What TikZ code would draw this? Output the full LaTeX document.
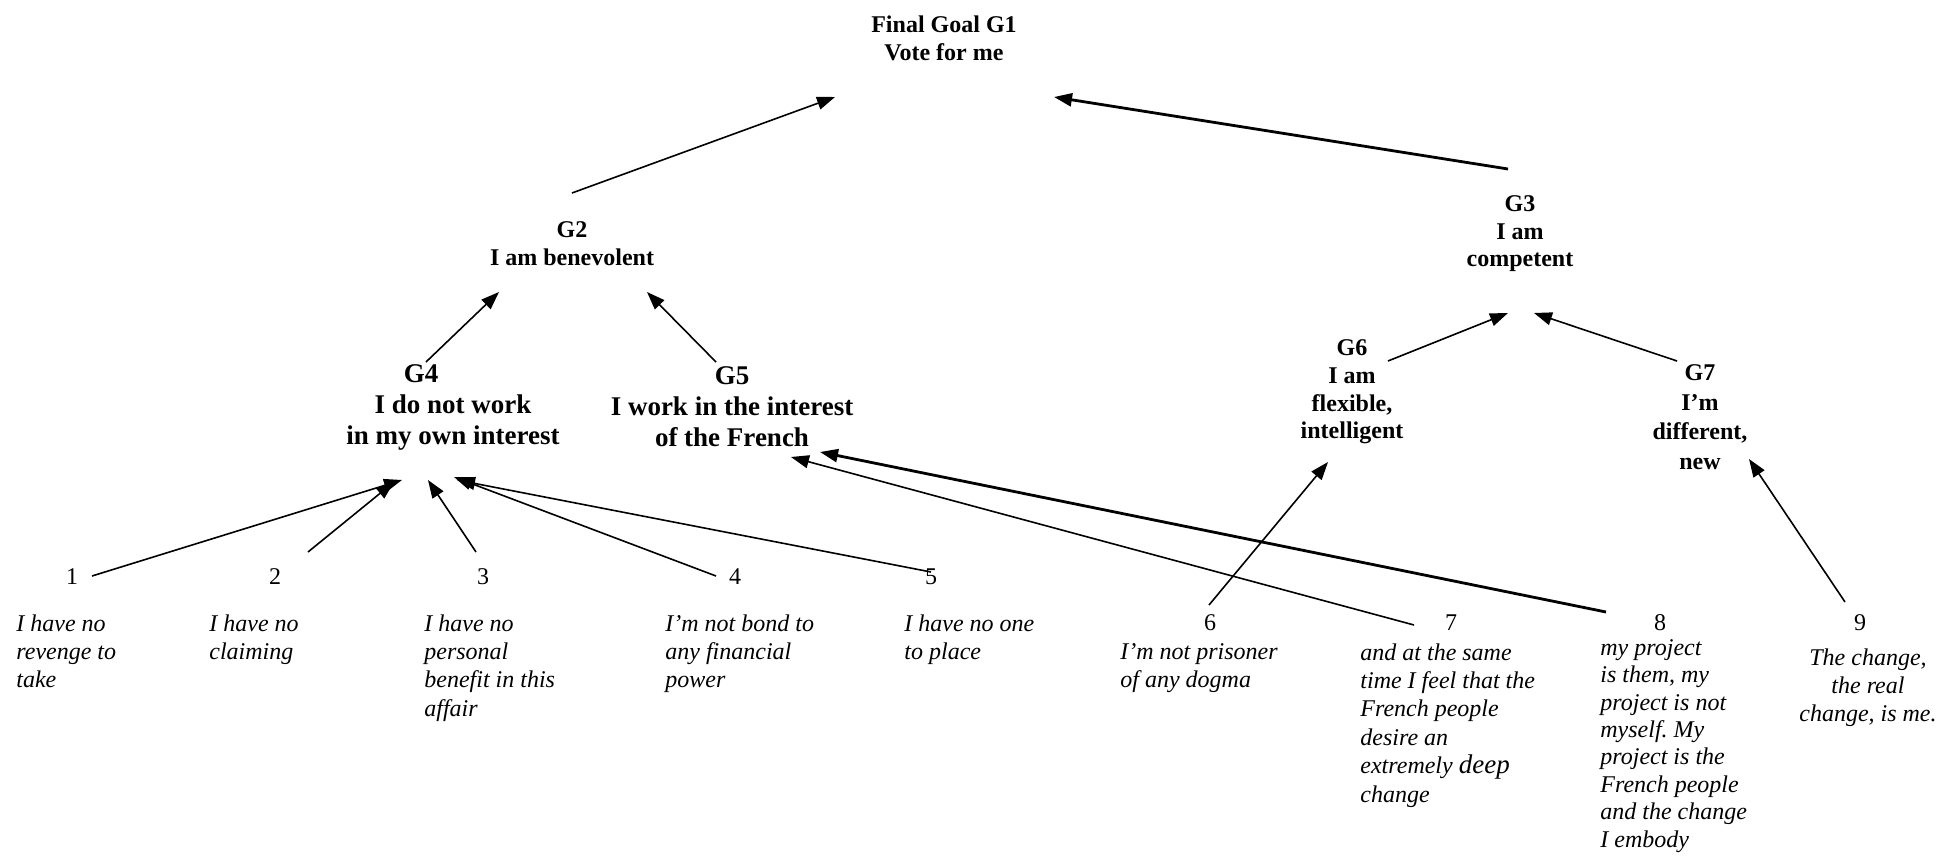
\documentclass[tikz,border=0pt]{standalone}
\usepackage{fontspec}
\setmainfont{Liberation Serif}
\usetikzlibrary{arrows.meta}

\begin{document}
\begin{tikzpicture}[
        x=0.5pt, y=-0.5pt,
        goal/.style={font=\bfseries\fontsize{12}{14}\selectfont, align=center, inner sep=0pt},
        subgoal/.style={font=\bfseries\fontsize{13.5}{15.5}\selectfont, align=center, inner sep=0pt},
        num/.style={font=\fontsize{12}{14}\selectfont, inner sep=0pt},
        quote/.style={font=\itshape\fontsize{12}{14.2}\selectfont, align=left, anchor=north west, inner sep=0pt},
        arrow/.style={-{Triangle[length=9pt,width=6.5pt]}, line width=0.8pt},
        thickarrow/.style={arrow, line width=1.4pt}
    ]

    \useasboundingbox (0,0) rectangle (1940,856);

    % Goals
    \node[goal] (g1) at (944,38) {Final Goal G1\\Vote for me};
    \node[goal] (g2) at (572,244) {G2\\I am benevolent};
    \node[goal, font=\bfseries\fontsize{12}{13.75}\selectfont] (g3) at (1520,234) {G3\\I am\\competent};
    \node[subgoal] (g4) at (453,407) {G4\hspace*{32pt}\\I do not work\hspace*{11pt}\\in my own interest};
    \node[subgoal] (g5) at (732,407) {G5\\I work in the interest\\of the French};
    \node[goal, font=\bfseries\fontsize{12}{13.8}\selectfont] (g6) at (1352,392) {G6\\I am\\flexible,\\intelligent};
    \node[goal, font=\bfseries\fontsize{12}{14.75}\selectfont] (g7) at (1700,417) {G7\\I'm\\different,\\new};

    % Numbers
    \node[num] (n1) at (72,577) {1};
    \node[num] (n2) at (275,577) {2};
    \node[num] (n3) at (483,577) {3};
    \node[num] (n4) at (735,577) {4};
    \node[num] (n5) at (931,577) {5};
    \node[num] (n6) at (1210,623) {6};
    \node[num] (n7) at (1451,623) {7};
    \node[num] (n8) at (1660,623) {8};
    \node[num] (n9) at (1860,623) {9};

    % Statements
    \node[quote] (d1) at (16,614) {I have no\\revenge to\\take};
    \node[quote] (d2) at (209,614) {I have no\\claiming};
    \node[quote] (d3) at (424,614) {I have no\\personal\\benefit in this\\affair};
    \node[quote] (d4) at (665,614) {I'm not bond to\\any financial\\power};
    \node[quote] (d5) at (904,614) {I have no one\\to place};
    \node[quote] (d6) at (1120,643) {I'm not prisoner\\of any dogma};
    \node[quote] (d7) at (1360,643) {and at the same\\time I feel that the\\French people\\desire an\\extremely {\fontsize{13.5}{14.2}\selectfont deep}\\change};
    \node[quote, font=\itshape\fontsize{12}{13.7}\selectfont] (d8) at (1600,639) {my project\\is them, my\\project is not\\myself.\ My\\project is the\\French people\\and the change\\I embody};
    \node[quote, align=center, anchor=north] (d9) at (1868,648) {The change,\\the real\\change, is me.};

    % Arrows
    \draw[arrow] ([shift={(0,-51)}]g2.center) -- ([shift={(-109,59)}]g1.center);
    \draw[thickarrow] ([shift={(-12,-65)}]g3.center) -- ([shift={(110,59)}]g1.center);
    \draw[arrow] ([shift={(-27,-45)}]g4.center) -- ([shift={(-73,48)}]g2.center);
    \draw[arrow] ([shift={(-16,-45)}]g5.center) -- ([shift={(75,48)}]g2.center);
    \draw[arrow] ([shift={(36,-31)}]g6.center) -- ([shift={(-12,79)}]g3.center);
    \draw[arrow] ([shift={(-23,-56)}]g7.center) -- ([shift={(14,79)}]g3.center);

    \draw[arrow] ([shift={(20,-1)}]n1.center) -- ([shift={(-51,73)}]g4.center);
    \draw[arrow] ([shift={(33,-25)}]n2.center) -- ([shift={(-59,75)}]g4.center);
    \draw[arrow] ([shift={(-7,-25)}]n3.center) -- ([shift={(-25,73)}]g4.center);
    \draw[arrow] ([shift={(-19,-1)}]n4.center) -- ([shift={(1,70)}]g4.center);
    \draw[arrow] ([shift={(0,-5)}]n5.center) -- ([shift={(4,73)}]g4.center);

    \draw[arrow] ([shift={(-37,2)}]n7.center) -- ([shift={(59,50)}]g5.center);
    \draw[thickarrow] ([shift={(-54,-11)}]n8.center) -- ([shift={(88,45)}]g5.center);
    \draw[arrow] ([shift={(-1,-18)}]n6.center) -- ([shift={(-24,70)}]g6.center);
    \draw[arrow] ([shift={(-15,-21)}]n9.center) -- ([shift={(49,42)}]g7.center);

\end{tikzpicture}
\end{document}
